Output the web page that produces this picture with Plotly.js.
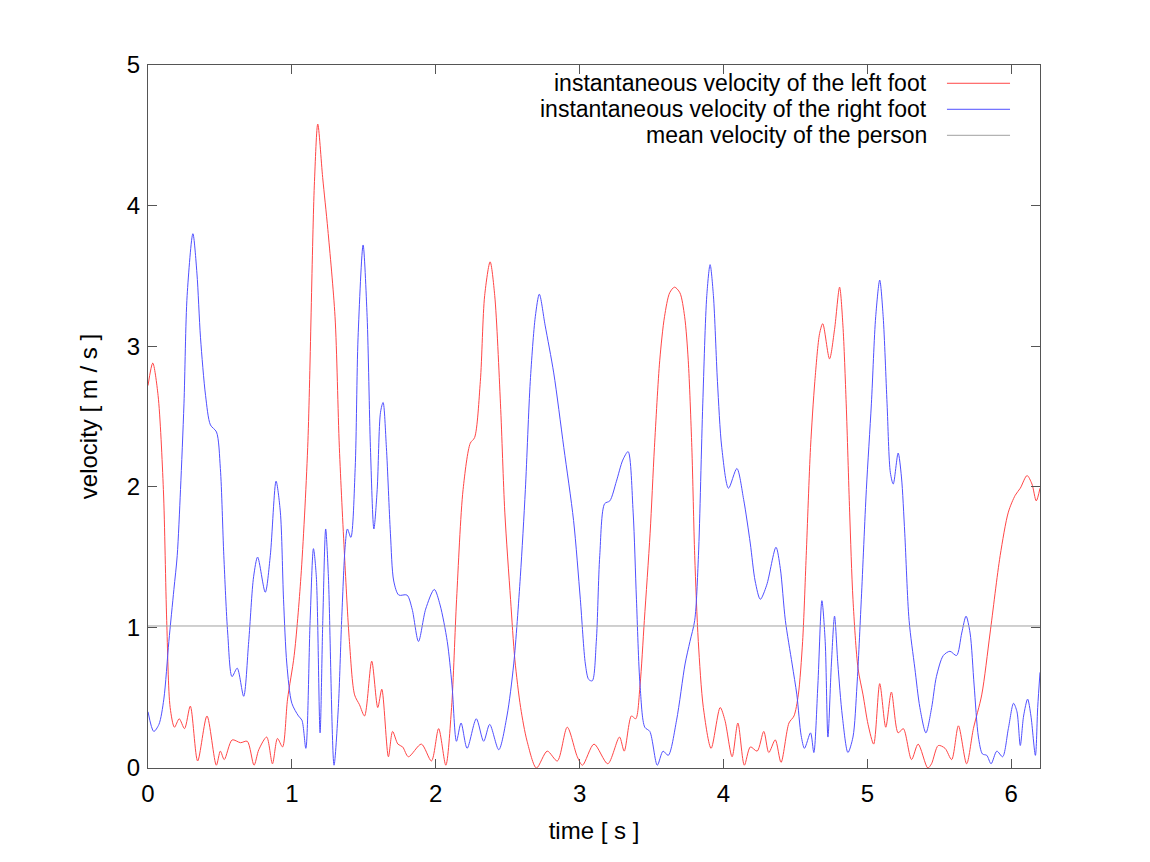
<!DOCTYPE html>
<html>
<head>
<meta charset="utf-8">
<script src="https://cdn.plot.ly/plotly-3.0.1.min.js"></script>
<style>
  html, body { margin: 0; padding: 0; background: #fff; }
  #chart { width: 1150px; height: 862px; }
</style>
</head>
<body>
<div id="chart"></div>
<script>
// values (time in s, velocity in m/s)
const leftTime = [0, 0.033, 0.07, 0.107, 0.13, 0.154, 0.184, 0.217, 0.254, 0.294, 0.345, 0.41, 0.475, 0.503, 0.53, 0.585, 0.643, 0.69, 0.737, 0.77, 0.825, 0.865, 0.9, 0.935, 0.97, 1.016, 1.063, 1.11, 1.156, 1.18, 1.214, 1.25, 1.3, 1.33, 1.366, 1.4, 1.436, 1.47, 1.505, 1.555, 1.597, 1.625, 1.671, 1.7, 1.737, 1.77, 1.81, 1.9, 1.97, 2.02, 2.07, 2.11, 2.145, 2.19, 2.24, 2.27, 2.31, 2.34, 2.378, 2.41, 2.45, 2.48, 2.52, 2.55, 2.59, 2.635, 2.7, 2.775, 2.845, 2.914, 2.984, 3.02, 3.1, 3.196, 3.277, 3.31, 3.36, 3.39, 3.42, 3.45, 3.49, 3.52, 3.557, 3.59, 3.626, 3.66, 3.697, 3.73, 3.755, 3.78, 3.8, 3.825, 3.86, 3.914, 3.977, 4.01, 4.06, 4.1, 4.145, 4.187, 4.234, 4.28, 4.315, 4.36, 4.4, 4.455, 4.49, 4.52, 4.55, 4.575, 4.605, 4.635, 4.668, 4.69, 4.737, 4.772, 4.807, 4.83, 4.853, 4.877, 4.9, 4.935, 4.97, 5.005, 5.044, 5.086, 5.128, 5.167, 5.214, 5.25, 5.307, 5.353, 5.42, 5.446, 5.493, 5.54, 5.586, 5.633, 5.69, 5.737, 5.795, 5.853, 5.923, 5.98, 6.028, 6.063, 6.11, 6.144, 6.174, 6.2];
const leftVelocity = [2.72, 2.88, 2.65, 1.98, 1.05, 0.43, 0.29, 0.35, 0.28, 0.44, 0.05, 0.37, 0.02, 0.12, 0.06, 0.2, 0.18, 0.19, 0.02, 0.13, 0.22, 0.03, 0.21, 0.15, 0.49, 0.8, 1.36, 2.28, 4.14, 4.58, 4.2, 3.83, 3.21, 2.28, 1.51, 0.9, 0.52, 0.45, 0.37, 0.76, 0.43, 0.56, 0.08, 0.26, 0.17, 0.15, 0.08, 0.17, 0.05, 0.28, 0.02, 0.43, 1.2, 1.98, 2.31, 2.35, 2.75, 3.36, 3.6, 3.36, 2.59, 1.82, 1.2, 0.77, 0.43, 0.19, 0.0, 0.12, 0.05, 0.29, 0.08, 0.02, 0.17, 0.03, 0.22, 0.12, 0.37, 0.35, 0.59, 1.05, 1.67, 2.28, 2.9, 3.21, 3.38, 3.42, 3.38, 3.21, 2.9, 2.28, 1.51, 0.9, 0.43, 0.14, 0.43, 0.34, 0.08, 0.32, 0.02, 0.15, 0.12, 0.26, 0.11, 0.2, 0.04, 0.32, 0.37, 0.52, 0.9, 1.51, 2.28, 2.75, 3.09, 3.16, 2.91, 3.12, 3.42, 3.15, 2.59, 1.82, 1.2, 0.71, 0.52, 0.31, 0.17, 0.6, 0.29, 0.54, 0.25, 0.28, 0.06, 0.17, 0.0, 0.03, 0.16, 0.14, 0.06, 0.3, 0.03, 0.28, 0.52, 0.96, 1.51, 1.82, 1.94, 1.99, 2.08, 2.02, 1.9, 1.99];

const rightTime = [0, 0.04, 0.076, 0.11, 0.145, 0.18, 0.203, 0.226, 0.25, 0.272, 0.312, 0.34, 0.365, 0.4, 0.434, 0.476, 0.503, 0.527, 0.554, 0.584, 0.62, 0.665, 0.7, 0.734, 0.762, 0.815, 0.85, 0.89, 0.92, 0.942, 0.965, 1.0, 1.046, 1.07, 1.097, 1.127, 1.15, 1.17, 1.196, 1.215, 1.235, 1.254, 1.293, 1.323, 1.346, 1.37, 1.386, 1.41, 1.44, 1.46, 1.495, 1.523, 1.546, 1.57, 1.593, 1.616, 1.634, 1.657, 1.685, 1.708, 1.743, 1.8, 1.836, 1.88, 1.93, 1.99, 2.03, 2.08, 2.113, 2.144, 2.176, 2.218, 2.282, 2.333, 2.375, 2.438, 2.495, 2.542, 2.588, 2.623, 2.657, 2.692, 2.72, 2.76, 2.82, 2.89, 2.958, 3.005, 3.04, 3.063, 3.088, 3.116, 3.14, 3.174, 3.21, 3.256, 3.3, 3.337, 3.372, 3.395, 3.42, 3.453, 3.488, 3.54, 3.58, 3.616, 3.674, 3.733, 3.767, 3.8, 3.826, 3.856, 3.884, 3.907, 3.93, 3.958, 3.988, 4.035, 4.093, 4.14, 4.186, 4.22, 4.256, 4.3, 4.365, 4.395, 4.43, 4.477, 4.51, 4.54, 4.563, 4.605, 4.628, 4.656, 4.684, 4.707, 4.726, 4.75, 4.772, 4.795, 4.826, 4.865, 4.9, 4.928, 4.958, 4.993, 5.028, 5.058, 5.086, 5.11, 5.137, 5.16, 5.18, 5.214, 5.237, 5.26, 5.29, 5.33, 5.365, 5.407, 5.447, 5.48, 5.528, 5.574, 5.62, 5.656, 5.686, 5.714, 5.742, 5.772, 5.8, 5.83, 5.86, 5.9, 5.94, 5.98, 6.016, 6.04, 6.063, 6.086, 6.114, 6.137, 6.168, 6.184, 6.2];
const rightVelocity = [0.4, 0.26, 0.31, 0.49, 0.9, 1.27, 1.51, 1.98, 2.59, 3.36, 3.8, 3.52, 3.06, 2.65, 2.44, 2.39, 2.13, 1.51, 0.96, 0.65, 0.71, 0.51, 0.9, 1.36, 1.5, 1.25, 1.51, 2.04, 1.82, 1.2, 0.74, 0.46, 0.37, 0.34, 0.14, 1.05, 1.56, 1.36, 0.25, 1.05, 1.7, 1.36, 0.02, 0.43, 1.05, 1.57, 1.7, 1.64, 2.13, 3.06, 3.72, 3.21, 2.28, 1.7, 1.98, 2.53, 2.6, 2.28, 1.67, 1.33, 1.23, 1.23, 1.13, 0.9, 1.13, 1.27, 1.16, 0.9, 0.59, 0.19, 0.32, 0.14, 0.35, 0.19, 0.31, 0.13, 0.37, 0.74, 1.36, 1.98, 2.75, 3.21, 3.37, 3.15, 2.81, 2.28, 1.76, 1.2, 0.74, 0.63, 0.62, 0.9, 1.51, 1.88, 1.9, 2.04, 2.19, 2.25, 1.82, 1.2, 0.59, 0.29, 0.26, 0.02, 0.12, 0.09, 0.34, 0.74, 0.9, 1.05, 1.51, 2.59, 3.36, 3.58, 3.36, 2.75, 2.28, 1.99, 2.13, 1.91, 1.6, 1.33, 1.2, 1.3, 1.57, 1.42, 1.05, 0.74, 0.52, 0.23, 0.14, 0.25, 0.11, 0.59, 1.19, 0.9, 0.22, 0.74, 1.08, 0.74, 0.37, 0.11, 0.22, 0.59, 1.2, 1.98, 2.59, 3.21, 3.47, 3.21, 2.59, 2.1, 2.02, 2.24, 2.07, 1.67, 1.05, 0.71, 0.43, 0.25, 0.43, 0.65, 0.8, 0.83, 0.8, 0.96, 1.08, 0.96, 0.59, 0.22, 0.1, 0.09, 0.03, 0.12, 0.08, 0.28, 0.46, 0.4, 0.16, 0.37, 0.49, 0.37, 0.09, 0.43, 0.68];

const meanVelocity = 1.01;
const timeRange = [0, 6.2];

const seriesNames = [
    'instantaneous velocity of the left foot',
    'instantaneous velocity of the right foot',
    'mean velocity of the person'
];
const seriesColors = ['rgb(255,70,70)', 'rgb(80,80,255)', 'rgb(160,160,160)'];

const textFont = { family: 'Liberation Sans, Arial, sans-serif', size: 24, color: '#000' };
const keyFont = { family: 'Liberation Sans, Arial, sans-serif', size: 23, color: '#000' };

const traces = [
    {
        x: leftTime, y: leftVelocity, type: 'scatter', mode: 'lines',
        name: seriesNames[0],
        line: { color: seriesColors[0], width: 1, shape: 'spline', smoothing: 0.8 }
    },
    {
        x: rightTime, y: rightVelocity, type: 'scatter', mode: 'lines',
        name: seriesNames[1],
        line: { color: seriesColors[1], width: 1, shape: 'spline', smoothing: 0.8 }
    },
    {
        x: timeRange, y: timeRange.map(() => meanVelocity), type: 'scatter', mode: 'lines',
        name: seriesNames[2],
        line: { color: seriesColors[2], width: 1 }
    }
];

// gnuplot-style key: text right-aligned, sample line to its right
const keyRows = [0.974, 0.937, 0.900];
const annotations = seriesNames.map((name, i) => ({
    xref: 'paper', yref: 'paper', x: 0.8756, y: keyRows[i],
    xanchor: 'right', yanchor: 'middle', showarrow: false,
    text: name, font: keyFont
}));
const shapes = seriesNames.map((name, i) => ({
    type: 'line', xref: 'paper', yref: 'paper',
    x0: 0.8957, x1: 0.9664, y0: keyRows[i], y1: keyRows[i],
    line: { color: seriesColors[i], width: 1 }
}));

const layout = {
    width: 1150,
    height: 862,
    paper_bgcolor: '#fff',
    plot_bgcolor: '#fff',
    showlegend: false,
    margin: { l: 148, r: 110, t: 65, b: 94 },
    font: textFont,
    xaxis: {
        range: timeRange,
        tickvals: [0, 1, 2, 3, 4, 5, 6],
        ticks: 'inside', ticklen: 9, tickcolor: '#555',
        showline: true, linecolor: '#555', linewidth: 1, mirror: 'ticks',
        showgrid: false, zeroline: false,
        tickfont: textFont,
        ticklabelstandoff: 4,
        title: { text: 'time [ s ]', font: textFont, standoff: 16 }
    },
    yaxis: {
        range: [0, 5],
        tickvals: [0, 1, 2, 3, 4, 5],
        ticks: 'inside', ticklen: 9, tickcolor: '#555',
        showline: true, linecolor: '#555', linewidth: 1, mirror: 'ticks',
        showgrid: false, zeroline: false,
        tickfont: textFont,
        ticklabelstandoff: 2,
        title: { text: 'velocity [ m / s ]', font: textFont, standoff: 22 }
    },
    annotations: annotations,
    shapes: shapes
};

Plotly.newPlot('chart', traces, layout, { staticPlot: true, displayModeBar: false });
</script>
</body>
</html>
